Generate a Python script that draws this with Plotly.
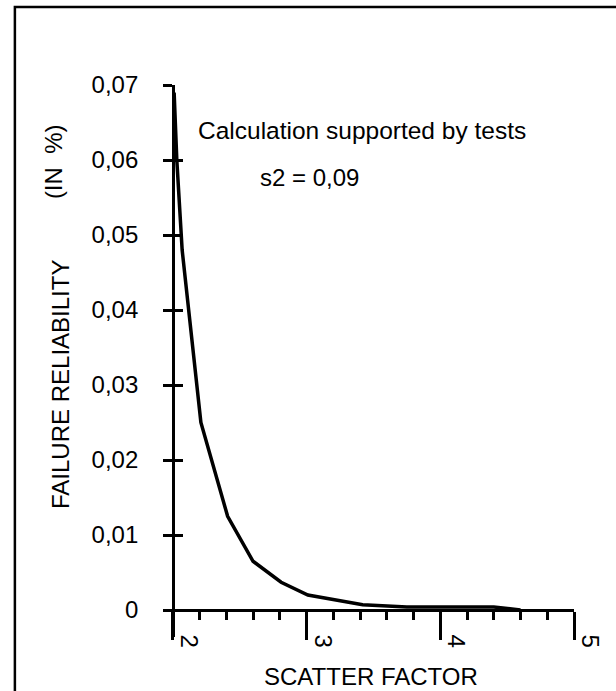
import plotly.graph_objects as go

# ---- data ----
scatter_factor = [2.01, 2.03, 2.07, 2.12, 2.21, 2.41, 2.60, 2.81, 3.01, 3.42, 3.75, 4.40, 4.60]
failure_reliability = [0.0690, 0.060, 0.048, 0.040, 0.025, 0.0125, 0.0065, 0.0037, 0.0020, 0.0007, 0.0004, 0.0004, 0.0]
y_tick_values = [0, 0.01, 0.02, 0.03, 0.04, 0.05, 0.06, 0.07]
y_tick_labels = ["0", "0,01", "0,02", "0,03", "0,04", "0,05", "0,06", "0,07"]
x_tick_values = [2, 3, 4, 5]
x_tick_labels = ["2", "3", "4", "5"]

# ---- layout geometry (pixels in the 616x691 page) ----
W, H = 616, 691
L, R, T, B = 163, 582, 85, 637


def px(x):
    return (x - L) / (R - L)


def py(y):
    return (B - y) / (B - T)


FONT = "Liberation Sans, Arial, Helvetica, sans-serif"
FS = 24

fig = go.Figure()
fig.add_trace(go.Scatter(
    x=scatter_factor, y=failure_reliability, mode="lines",
    line=dict(color="black", width=3.5), hoverinfo="skip", yaxis="y"))
fig.add_trace(go.Scatter(x=[None], y=[None], yaxis="y2", mode="lines", hoverinfo="skip"))

yr = [-0.0036, 0.07001]

fig.update_layout(
    width=W, height=H,
    margin=dict(l=L, r=W - R, t=T, b=H - B, pad=0),
    paper_bgcolor="white", plot_bgcolor="white",
    showlegend=False,
    font=dict(family=FONT, size=FS, color="black"),
    xaxis=dict(
        range=[1.9267, 5], domain=[0, 1], anchor="free", position=py(610),
        showline=True, linecolor="black", linewidth=2.5,
        ticks="outside", ticklen=28, tickwidth=2.5, tickcolor="black",
        tickmode="array", tickvals=x_tick_values, ticktext=x_tick_labels,
        tickangle=90, tickfont=dict(size=FS),
        ticklabelstandoff=-10, ticklabelshift=16,
        showgrid=False, zeroline=False,
        minor=dict(ticks="outside", ticklen=8, tickwidth=2.5, tickcolor="black",
                   dtick=0.2, tick0=2, showgrid=False),
    ),
    yaxis=dict(
        range=yr, domain=[0, 1], anchor="free", position=px(173),
        showline=True, linecolor="black", linewidth=2.5,
        ticks="outside", ticklen=9, tickwidth=2.5, tickcolor="black",
        tickmode="array", tickvals=y_tick_values, ticktext=y_tick_labels,
        tickfont=dict(size=FS), ticklabelstandoff=20,
        showgrid=False, zeroline=False,
    ),
    yaxis2=dict(
        range=yr, domain=[0, 1], anchor="free", position=px(173), overlaying="y",
        showline=False, ticks="inside", ticklen=9, tickwidth=2.5, tickcolor="black",
        tickmode="array", tickvals=y_tick_values, showticklabels=False,
        showgrid=False, zeroline=False,
    ),
    shapes=[dict(type="rect", xref="paper", yref="paper",
                 x0=px(12), x1=px(660), y0=py(7), y1=py(740),
                 line=dict(color="black", width=2.5), fillcolor="rgba(0,0,0,0)")],
    annotations=[
        dict(text="Calculation supported by tests", x=px(197), y=py(130), xref="paper", yref="paper",
             xanchor="left", yanchor="middle", showarrow=False, font=dict(size=24.5)),
        dict(text="s2 = 0,09", x=px(312), y=py(177), xref="paper", yref="paper",
             xanchor="center", yanchor="middle", showarrow=False, font=dict(size=FS)),
        dict(text="FAILURE RELIABILITY", x=px(58), y=py(385), xref="paper", yref="paper",
             xanchor="center", yanchor="middle", textangle=-90, showarrow=False, font=dict(size=FS)),
        dict(text="(IN  %)", x=px(52), y=py(162), xref="paper", yref="paper",
             xanchor="center", yanchor="middle", textangle=-90, showarrow=False, font=dict(size=FS)),
        dict(text="SCATTER FACTOR", x=px(375), y=py(676), xref="paper", yref="paper",
             xanchor="center", yanchor="middle", showarrow=False, font=dict(size=FS)),
    ],
)

page_fix = (
    "document.documentElement.style.margin='0';"
    "document.documentElement.style.overflow='hidden';"
    "document.body.style.margin='0';"
    "document.body.style.overflow='hidden';"
)
fig.write_html("out.html", post_script=page_fix, config={"displayModeBar": False})
